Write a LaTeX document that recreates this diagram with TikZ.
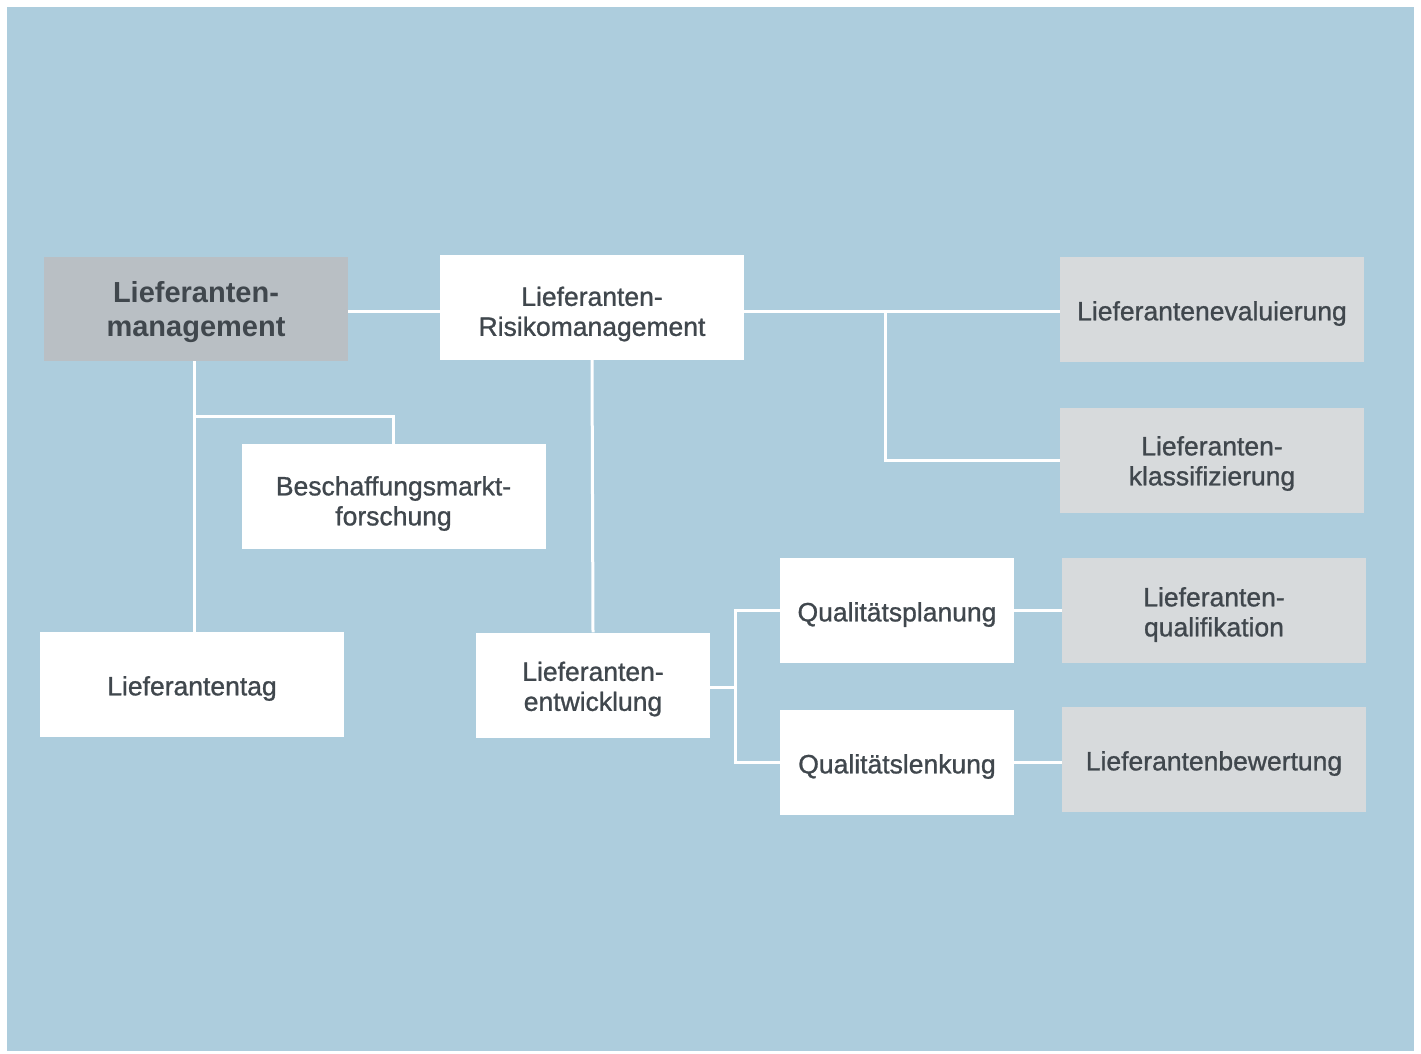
\documentclass[tikz,border=0pt]{standalone}
\usepackage{fontspec}
\setmainfont{Liberation Sans}
% slightly heavier regular weight for the box labels
\newfontfamily\labelfont{Liberation Sans}[FakeBold=1]
\definecolor{bgblue}{HTML}{ADCDDD}
\definecolor{rootgray}{HTML}{B9BFC4}
\definecolor{leafgray}{HTML}{D7DADC}
\definecolor{ink}{HTML}{40474D}
\tikzset{
  box/.style={rectangle, inner sep=0pt, minimum height=105pt},
  wide/.style={box, minimum width=304pt},
  narrow/.style={box, minimum width=234pt},
  plain/.style={fill=white},
  leaf/.style={fill=leafgray},
  root/.style={fill=rootgray, minimum height=104pt},
  lbl/.style={align=center, text=ink, inner sep=0pt,
    font=\labelfont\fontsize{26.5}{30}\selectfont},
  rootlbl/.style={lbl, font=\fontsize{29}{34}\selectfont\bfseries},
  % box caption, lowered by the given amount
  txt/.style 2 args={label={[lbl, yshift=-#1]center:{#2}}},
  roottxt/.style 2 args={label={[rootlbl, yshift=-#1]center:{#2}}},
  link/.style={draw=white, line width=3pt}
}
\begin{document}
\begin{tikzpicture}[x=1pt, y=-1pt]
  % page and blue panel
  \fill[white] (0,0) rectangle (1421,1053);
  \fill[bgblue] (7,7) rectangle (1414,1051);
  \useasboundingbox (0,0) rectangle (1421,1053);

  % boxes
  \node[wide, root, roottxt={3pt}{Lieferanten-\\management}] (lm) at (196,309) {};
  \node[wide, plain, txt={7pt}{Lieferanten-\\Risikomanagement}] (risk) at (592,307) {};
  \node[wide, leaf, txt={4pt}{Lieferantenevaluierung}] (eval) at (1212,309.5) {};
  \node[wide, leaf, txt={3pt}{Lieferanten-\\klassifizierung}] (klass) at (1212,460.5) {};
  \node[wide, plain, txt={7pt}{Beschaffungsmarkt-\\forschung}] (markt) at (393.5,496.5) {};
  \node[wide, plain, txt={4pt}{Lieferantentag}] (tag) at (192,684.5) {};
  \node[narrow, plain, txt={4pt}{Lieferanten-\\entwicklung}] (entw) at (593,685) {};
  \node[narrow, plain, txt={4pt}{Qualitätsplanung}] (plan) at (897,610.5) {};
  \node[narrow, plain, txt={4pt}{Qualitätslenkung}] (lenk) at (897,762.5) {};
  \node[wide, leaf, txt={4pt}{Lieferanten-\\qualifikation}] (quali) at (1214,610.5) {};
  \node[wide, leaf, txt={4pt}{Lieferantenbewertung}] (bew) at (1214,759.5) {};

  % junction points
  \coordinate (j1) at (194,416);
  \coordinate (j2) at (885,311);
  \coordinate (j3) at (735,687);

  % connectors
  \draw[link] (lm.east |- 0,311) -- (risk.west |- 0,311);
  \draw[link] (lm.south -| j1) -- (tag.north -| j1);
  \draw[link] (j1) -| (markt.north);
  \draw[link] (risk.east |- j2) -- (eval.west |- j2);
  \draw[link] (j2) |- (klass.west);
  \draw[link] (risk.south) -- (entw.north);
  \draw[link] (entw.east |- j3) -- (j3);
  \draw[link] (plan.west) -| (j3) |- (lenk.west);
  \draw[link] (plan.east) -- (quali.west);
  \draw[link] (lenk.east) -- (bew.west |- lenk.east);
\end{tikzpicture}
\end{document}
